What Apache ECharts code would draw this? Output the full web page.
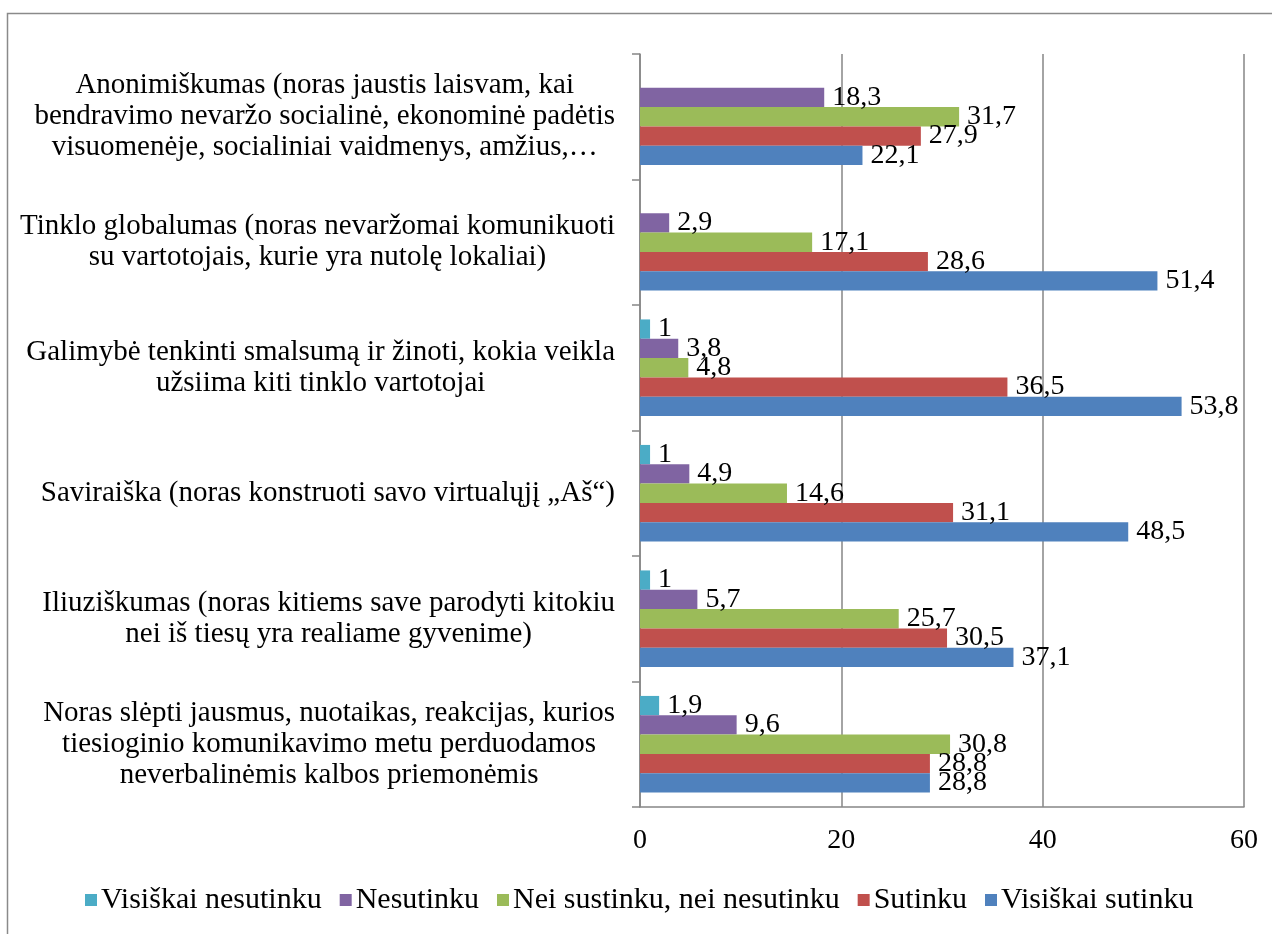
<!DOCTYPE html>
<html>
<head>
<meta charset="utf-8">
<script src="https://cdn.jsdelivr.net/npm/echarts@6/dist/echarts.min.js"></script>
<style>
html,body{margin:0;padding:0;background:#fff;}
#chart{width:1272px;height:934px;}
</style>
</head>
<body>
<div id="chart"></div>
<script>
// Categories listed bottom -> top (ECharts category y axis starts at bottom)
const categories = [
  "Noras slėpti jausmus, nuotaikas, reakcijas, kurios\ntiesioginio komunikavimo metu perduodamos\nneverbalinėmis kalbos priemonėmis",
  "Iliuziškumas (noras kitiems save parodyti kitokiu\nnei iš tiesų yra realiame gyvenime)",
  "Saviraiška (noras konstruoti savo virtualųjį „Aš“)",
  "Galimybė tenkinti smalsumą ir žinoti, kokia veikla\nužsiima kiti tinklo vartotojai",
  "Tinklo globalumas (noras nevaržomai komunikuoti\nsu vartotojais, kurie yra nutolę lokaliai)",
  "Anonimiškumas (noras jaustis laisvam, kai\nbendravimo nevaržo socialinė, ekonominė padėtis\nvisuomenėje, socialiniai vaidmenys, amžius,…"
];
const seriesNames = ["Visiškai nesutinku", "Nesutinku", "Nei sustinku, nei nesutinku", "Sutinku", "Visiškai sutinku"];
const visiskaiNesutinku = [1.9, 1, 1, 1, null, null];
const nesutinku = [9.6, 5.7, 4.9, 3.8, 2.9, 18.3];
const neiSustinku = [30.8, 25.7, 14.6, 4.8, 17.1, 31.7];
const sutinku = [28.8, 30.5, 31.1, 36.5, 28.6, 27.9];
const visiskaiSutinku = [28.8, 37.1, 48.5, 53.8, 51.4, 22.1];
const xTicks = [0, 20, 40, 60];

const colors = ["#4BACC6", "#8064A2", "#9BBB59", "#C0504D", "#4F81BD"];
const values = [visiskaiNesutinku, nesutinku, neiSustinku, sutinku, visiskaiSutinku];
const FONT = "'Liberation Serif', 'Times New Roman', serif";

const chart = echarts.init(document.getElementById('chart'), null, {renderer: 'canvas'});
const series = seriesNames.map((name, i) => ({
  name: name,
  type: 'bar',
  data: values[i],
  barGap: '0%',
  barCategoryGap: '23%',
  itemStyle: {color: colors[i]},
  label: {
    show: true,
    position: 'right',
    distance: 8,
    color: '#000',
    fontFamily: FONT,
    fontSize: 28,
    formatter: p => (p.value == null ? '' : String(p.value).replace('.', ','))
  }
}));

chart.setOption({
  animation: false,
  textStyle: {fontFamily: FONT},
  graphic: [{
    type: 'rect',
    shape: {x: 7.5, y: 13.5, width: 1290, height: 1000},
    style: {fill: 'none', stroke: '#8a8a8a', lineWidth: 1.5},
    silent: true,
    z: -1
  }],
  grid: {left: 640, right: 28, top: 54, bottom: 127, containLabel: false},
  legend: {
    data: seriesNames,
    bottom: 14,
    left: 80,
    itemWidth: 12,
    itemHeight: 12,
    itemGap: 18,
    icon: 'rect',
    textStyle: {fontFamily: FONT, fontSize: 30, color: '#000', padding: [0, 0, 0, -1]}
  },
  xAxis: {
    type: 'value',
    min: xTicks[0],
    max: xTicks[xTicks.length - 1],
    interval: 20,
    axisLine: {show: true, lineStyle: {color: '#868686', width: 1.5}},
    axisTick: {show: false},
    splitLine: {show: true, lineStyle: {color: '#868686', width: 1.5}},
    axisLabel: {
      color: '#000', fontFamily: FONT, fontSize: 28, margin: 20,
      formatter: v => (xTicks.indexOf(v) >= 0 ? String(v) : '')
    }
  },
  yAxis: {
    type: 'category',
    data: categories,
    axisLine: {show: true, lineStyle: {color: '#868686', width: 1.5}},
    axisTick: {show: true, length: 8, lineStyle: {color: '#868686', width: 1.5}},
    axisLabel: {
      color: '#000',
      fontFamily: FONT,
      fontSize: 29,
      lineHeight: 31,
      margin: 25,
      align: 'right',
      formatter: v => v.split('\n').map(l => '{c|' + l + '}').join('\n'),
      rich: {c: {align: 'center', fontFamily: FONT, fontSize: 29, lineHeight: 31, color: '#000'}}
    }
  },
  series: series
});
</script>
</body>
</html>
